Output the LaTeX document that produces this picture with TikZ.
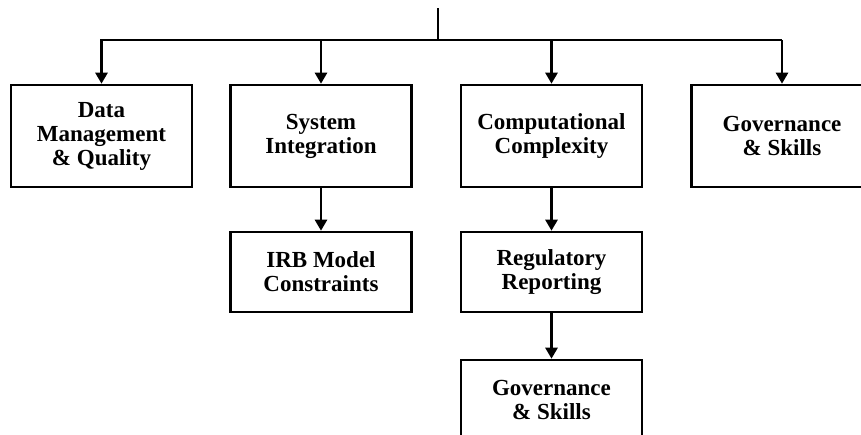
\documentclass[tikz,border=0pt]{standalone}
\usepackage{fontspec}
\setmainfont{Liberation Serif}
\usetikzlibrary{arrows.meta}
\begin{document}
\begin{tikzpicture}[x=1pt,y=-1pt,
  box/.style={draw,line width=2.6pt,minimum width=181pt,minimum height=102pt,align=center,
    font=\bfseries\fontsize{23}{24}\selectfont,inner sep=0pt},
  boxb/.style={box,minimum height=80pt},
  wire/.style={line width=2.6pt},
  conn/.style={line width=2.6pt,-{Triangle[width=12pt,length=11pt]}}]
\useasboundingbox (0,0) rectangle (861,434);
\node[anchor=base west,inner sep=0pt,font=\bfseries\fontsize{40}{40}\selectfont] (title) at (531,-19) {p};
\node[box] (dm) at (101.5,136) {Data\\Management\\\& Quality};
\node[box] (si) at (321,136) {System\\Integration};
\node[box] (cc) at (551.5,136) {Computational\\Complexity};
\node[box] (gs) at (782,136) {Governance\\\& Skills};
\node[boxb] (irb) at (321,272) {IRB Model\\Constraints};
\node[boxb] (rr) at (551.5,272) {Regulatory\\Reporting};
\node[boxb] (gs2) at (551.5,400) {Governance\\\& Skills};
\coordinate (top) at (438,8);
\coordinate (bus) at (0,40);
\draw[wire] (top) -- (top |- bus);
\draw[conn] (gs.north |- bus) -- (dm.north |- bus) -- (dm.north);
\draw[conn] (si.north |- bus) -- (si.north);
\draw[conn] (cc.north |- bus) -- (cc.north);
\draw[conn] (gs.north |- bus) -- (gs.north);
\draw[conn] (si.south) -- (irb.north);
\draw[conn] (cc.south) -- (rr.north);
\draw[conn] (rr.south) -- (gs2.north);
\end{tikzpicture}
\end{document}
